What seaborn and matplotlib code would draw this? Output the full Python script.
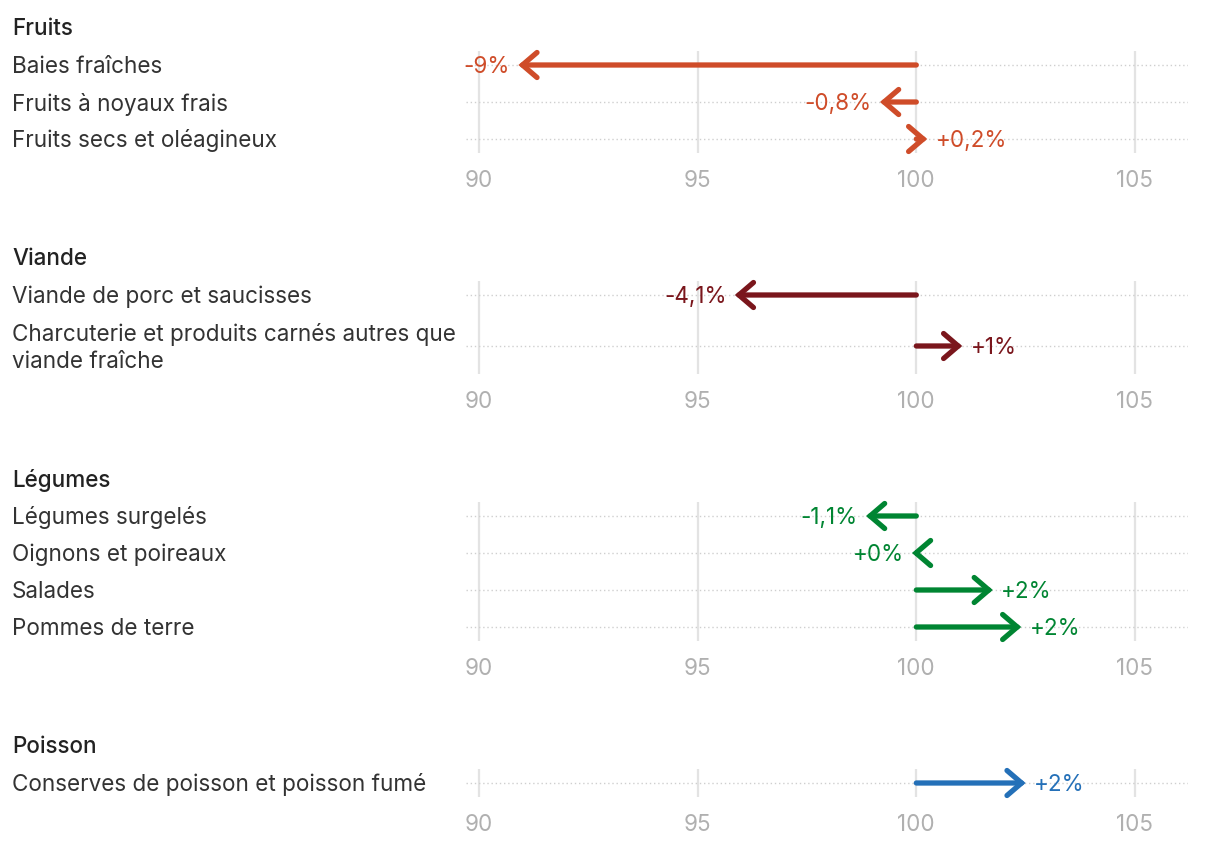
import matplotlib
matplotlib.use('Agg')
import matplotlib.pyplot as plt
import matplotlib.transforms as mtransforms
from matplotlib.patches import ArrowStyle
import seaborn as sns

# data
groups = ['Fruits', 'Viande', 'Légumes', 'Poisson']

fruits_labels = ['Baies fraîches', 'Fruits à noyaux frais', 'Fruits secs et oléagineux']
fruits_values = [90.9, 99.17, 100.25]
fruits_text = ['-9%', '-0,8%', '+0,2%']

viande_labels = ['Viande de porc et saucisses',
                 'Charcuterie et produits carnés autres que\nviande fraîche']
viande_values = [95.85, 101.05]
viande_text = ['-4,1%', '+1%']

legumes_labels = ['Légumes surgelés', 'Oignons et poireaux', 'Salades', 'Pommes de terre']
legumes_values = [98.85, 99.9, 101.75, 102.4]
legumes_text = ['-1,1%', '+0%', '+2%', '+2%']

poisson_labels = ['Conserves de poisson et poisson fumé']
poisson_values = [102.5]
poisson_text = ['+2%']

colors = ['#cf4c29', '#7a161c', '#008532', '#2470b8']
xticks = [90, 95, 100, 105]
base = 100

panels = [
    (fruits_labels, fruits_values, fruits_text),
    (viande_labels, viande_values, viande_text),
    (legumes_labels, legumes_values, legumes_text),
    (poisson_labels, poisson_values, poisson_text),
]

sns.set_theme(style='white')
plt.rcParams['font.family'] = ['Inter', 'DejaVu Sans']

W, H = 1220, 848
fig = plt.figure(figsize=(W / 100, H / 100), dpi=100)

FS = 16.2
TEXT = '#333333'
LEFT, RIGHT = 466, 1188
XMIN = 90 - 13 / 43.7
XMAX = 105 + 53 / 43.7
TXT_DY = 2  # text looks a bit high with va='center'

heading_y = 27
for group, color, (labels, values, texts) in zip(groups, colors, panels):
    # row layout in pixels
    row_top = heading_y + 19.5
    centers = []
    y = row_top
    for lab in labels:
        h = 37 + 28 * (lab.count('\n'))
        centers.append(y + h / 2)
        y += h
    ax_top = row_top + 4.5
    ax_bot = y - 4.5

    ax = fig.add_axes([LEFT / W, 1 - ax_bot / H, (RIGHT - LEFT) / W, (ax_bot - ax_top) / H])
    ax.set_xlim(XMIN, XMAX)
    ax.set_ylim(ax_bot, ax_top)
    sns.despine(ax=ax, left=True, bottom=True)
    ax.set_facecolor('none')

    ax.set_xticks(xticks)
    ax.set_xticklabels([str(t) for t in xticks])
    ax.set_yticks(centers)
    ax.set_yticklabels([])
    ax.tick_params(axis='x', length=0, pad=12, labelcolor='#b0b0b0', labelsize=FS)
    ax.tick_params(axis='y', length=0)
    ax.grid(axis='x', color='#e3e3e3', linewidth=1.6)
    ax.grid(axis='y', color='#cfcfcf', linestyle=(0, (1, 2)), linewidth=1.0)
    ax.set_axisbelow(True)

    # heading and row labels
    fig.text(12 / W, 1 - (heading_y + TXT_DY) / H, group, ha='left', va='center',
             fontsize=FS, color='#222222', fontweight='medium')
    trans = mtransforms.blended_transform_factory(fig.transFigure, ax.transData)
    for lab, cy in zip(labels, centers):
        ax.text(12 / W, cy + TXT_DY, lab, transform=trans, ha='left', va='center',
                fontsize=FS, color=TEXT, linespacing=1.28)

    # arrows
    style = ArrowStyle('->', head_length=1.05, head_width=0.9)
    for val, txt, cy in zip(values, texts, centers):
        ax.annotate('', xy=(val, cy), xytext=(base, cy),
                    arrowprops=dict(arrowstyle=style, color=color, lw=3.8,
                                    shrinkA=0, shrinkB=0, mutation_scale=10,
                                    capstyle='round', joinstyle='miter'))
        off = 6 if val >= base else -6
        ax.annotate(txt, xy=(val, cy + TXT_DY), xytext=(off, 0), textcoords='offset points',
                    ha='left' if val >= base else 'right', va='center',
                    fontsize=FS, color=color)

    heading_y = ax_bot + 104

fig.savefig('out.png', dpi=100, facecolor='white')
